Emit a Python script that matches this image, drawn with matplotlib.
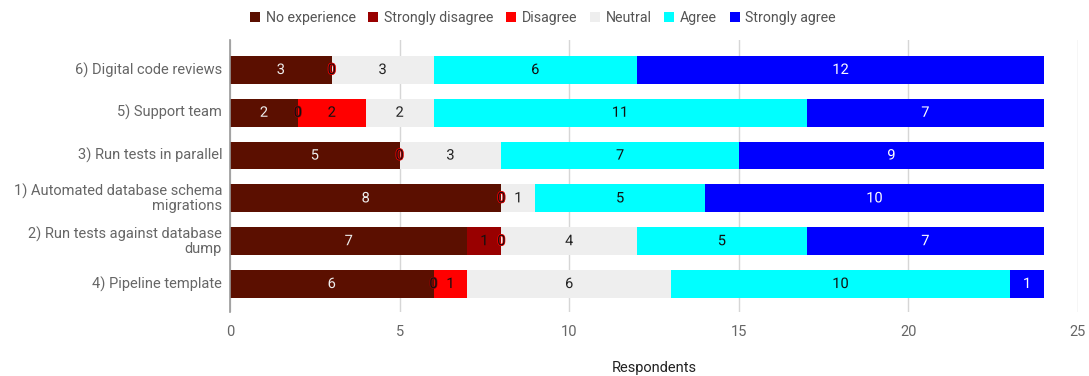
import numpy as np
import matplotlib
matplotlib.use("Agg")
from matplotlib import pyplot as plt
from matplotlib import patheffects as pe

plt.rcParams['font.family'] = ['Roboto', 'DejaVu Sans']

# Survey answers per practice, top row first
practices = ["6) Digital code reviews",
             "5) Support team",
             "3) Run tests in parallel",
             "1) Automated database schema\nmigrations",
             "2) Run tests against database\ndump",
             "4) Pipeline template"]

answers = ["No experience", "Strongly disagree", "Disagree", "Neutral", "Agree", "Strongly agree"]

noExperience = [3, 2, 5, 8, 7, 6]
stronglyDisagree = [0, 0, 0, 0, 1, 0]
disagree = [0, 2, 0, 0, 0, 1]
neutral = [3, 2, 3, 1, 4, 6]
agree = [6, 11, 7, 5, 5, 10]
stronglyAgree = [12, 7, 9, 10, 7, 1]

series = [noExperience, stronglyDisagree, disagree, neutral, agree, stronglyAgree]
colors = ["#5b0f00", "#990000", "#ff0000", "#eeeeee", "#00ffff", "#0000ff"]
labelColors = ["#eeeeee", "#111111", "#111111", "#222222", "#111111", "#ffffff"]

fig = plt.figure(figsize=(10.89, 3.76), dpi=100)
ax = fig.add_axes([230 / 1089, 1 - 312 / 376, 848 / 1089, 272 / 376])

ypos = np.arange(len(practices))
left = np.zeros(len(practices))
handles = []
for name, vals, col, tcol in zip(answers, series, colors, labelColors):
    vals = np.array(vals, dtype=float)
    bars = ax.barh(ypos, vals, left=left, height=0.65, color=col, zorder=3, label=name)
    handles.append(bars)
    # value labels, with a thin halo in the series colour
    for y, v, l in zip(ypos, vals, left):
        ax.text(l + v / 2, y, "%d" % v, ha="center", va="center", fontsize=10.5,
                color=tcol, zorder=5,
                path_effects=[pe.withStroke(linewidth=1.0, foreground=col)])
    left += vals

ax.set_xlim(0, 25)
ax.set_ylim(5.654, -0.70)
ax.set_xticks([0, 5, 10, 15, 20, 25])
ax.set_yticks(ypos)
ax.set_yticklabels([])
# category names drawn by hand so wrapped lines stay right-aligned
for y, name in zip(ypos, practices):
    ax.annotate(name, xy=(0, y), xycoords=("axes fraction", "data"),
                xytext=(-8, 0), textcoords="offset pixels",
                ha="right", va="center", multialignment="right",
                linespacing=1.0, fontsize=10.5, color="#666666")
ax.tick_params(axis="x", length=0, colors="#666666", labelsize=10.5, pad=9)
ax.tick_params(axis="y", length=0)
ax.grid(axis="x", color="#d6d6d6", linewidth=1, zorder=0)
for s in ["top", "right", "bottom"]:
    ax.spines[s].set_visible(False)
ax.spines["left"].set_color("#999999")
ax.spines["left"].set_linewidth(1.2)
ax.spines["left"].set_zorder(4)

ax.set_xlabel("Respondents", fontsize=10.5, color="#222222", labelpad=16)

fig.legend(handles=handles, labels=answers, loc="center", bbox_to_anchor=(0.4986, 0.952),
           ncol=6, frameon=False, fontsize=10.2, labelcolor="#555555",
           handlelength=0.7, handleheight=0.7, handletextpad=0.4, columnspacing=0.9)

fig.savefig("out.png", dpi=100)
